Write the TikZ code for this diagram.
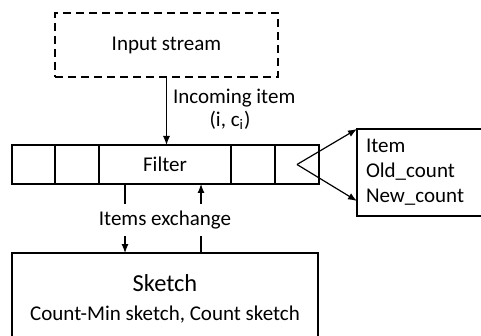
\documentclass[tikz,border=0pt]{standalone}
\usepackage{fontspec}
\setmainfont{Carlito}
\usetikzlibrary{arrows.meta,positioning}

\begin{document}
\begin{tikzpicture}[
  x=0.5pt, y=-0.5pt,
  every node/.style={font=\fontsize{10.5}{12.5}\selectfont},
  box/.style={draw, line width=0.6pt, inner sep=0pt, outer sep=0pt},
  cell/.style={box, minimum height=19.5pt, minimum width=22pt},
  arr/.style={-{Latex[length=4.5pt,width=3.5pt]}, line width=0.6pt},
  ln/.style={line width=0.6pt},
]
  \useasboundingbox (0,0) rectangle (481,336);
  \node[box, dash pattern=on 4pt off 2.5pt, minimum width=111.5pt, minimum height=32pt] (input) at (166.5,45) {Input stream};
  \node[cell, minimum width=21.5pt, anchor=north west] (c1) at (12,145) {};
  \node[cell, right=0pt of c1] (c2) {};
  \node[cell, right=0pt of c2, minimum width=66pt] (c3) {Filter};
  \node[cell, right=0pt of c3] (c4) {};
  \node[cell, right=0pt of c4] (c5) {};
  \node[box, anchor=north west, minimum height=43.5pt, text width=66pt, inner xsep=4.5pt, align=left] (out) at (357,129) {Item\\Old\_count\\New\_count};
  \node[box, anchor=north west, minimum width=153pt, minimum height=45.5pt, align=center] (sketch) at (12,253) {{\fontsize{12.2}{15.5}\selectfont Sketch}\\[2pt]Count-Min sketch, Count sketch};
  \node[anchor=west] (inc) at (166,98) {Incoming item};
  \node (pair) at (230,120) {(i, c\textsubscript{i})};
  \node (exch) at (165,220) {Items exchange};
  \coordinate (newc) at ([yshift=7.5pt]out.south west);
  \coordinate (dn) at ([xshift=13pt]c3.south west);
  \coordinate (up) at ([xshift=-15pt]c3.south east);
  \draw[arr] (input.south) -- (input.south |- c3.north);
  \draw[arr] (c5.center) -- (out.north west);
  \draw[arr] (c5.center) -- (newc);
  \draw[ln] (dn) -- (dn |- exch.north);
  \draw[arr] (dn |- exch.south) -- (dn |- sketch.north);
  \draw[ln] (up |- sketch.north) -- (up |- exch.south);
  \draw[arr] (up |- exch.north) -- (up);
\end{tikzpicture}
\end{document}
